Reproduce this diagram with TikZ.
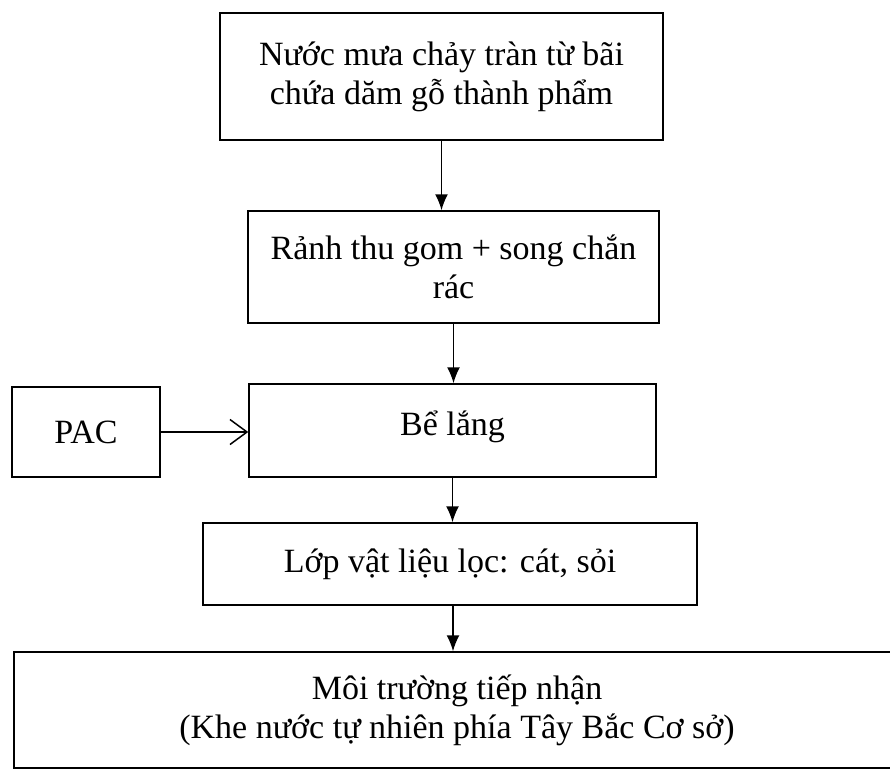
\documentclass[tikz,border=0pt]{standalone}
\usepackage{fontspec}
\setmainfont{Liberation Serif}
\usepackage{tikz}
\usetikzlibrary{arrows.meta}

\begin{document}
\begin{tikzpicture}[x=1pt,y=-1pt,
   box/.style={draw,line width=1.5pt,align=center,inner sep=0pt,font=\fontsize{34}{39}\selectfont},
   flow/.style={line width=1.5pt,-{Latex[length=16pt,width=13pt]}},
   feed/.style={line width=1.5pt,-{Straight Barb[length=17pt,width=25pt,line width=1.5pt]}}]
   \clip (0,0) rectangle (890,774);
   \fill[white] (0,0) rectangle (890,774);
   % main line, top to bottom
   \node[box,minimum width=443pt,minimum height=127pt] (rain) at (441.5,76.5) {Nước mưa chảy tràn từ bãi\\chứa dăm gỗ thành phẩm};
   \node[box,minimum width=411pt,minimum height=112pt] (ditch) at (453.5,267) {Rảnh thu gom + song chắn\\rác};
   \node[box,minimum width=407pt,minimum height=93pt,text depth=14pt] (settle) at (452.5,430.5) {Bể lắng};
   \node[box,minimum width=494pt,minimum height=82pt] (filter) at (450,564) {Lớp vật liệu lọc: cát, sỏi};
   \node[box,minimum width=886pt,minimum height=116pt] (recv) at (457,710) {Môi trường tiếp nhận\\(Khe nước tự nhiên phía Tây Bắc Cơ sở)};
   % chemical dosing
   \node[box,minimum width=148pt,minimum height=90pt] (pac) at (86,432) {PAC};
   \draw[flow] (rain.south) -- (rain.south |- ditch.north);
   \draw[flow] (ditch.south) -- (ditch.south |- settle.north);
   \draw[flow] (settle.south) -- (settle.south |- filter.north);
   \draw[flow] (filter.south) ++(3,0) coordinate (f) -- (f |- recv.north);
   \draw[feed] (pac.east) -- (settle.west |- pac.east);
\end{tikzpicture}
\end{document}
